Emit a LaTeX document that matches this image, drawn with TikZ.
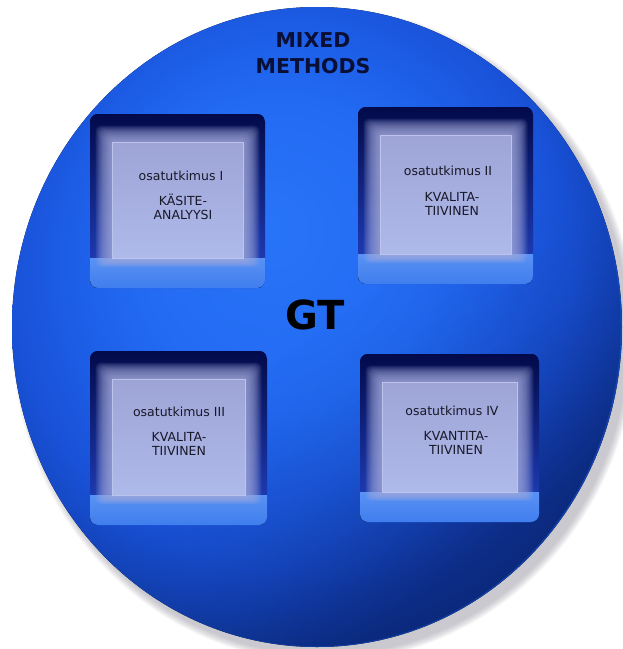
\documentclass[tikz,border=0pt]{standalone}
\usepackage{fontspec}
\setmainfont{DejaVu Sans}
\usepackage{xcolor,tikz}
\usetikzlibrary{fadings}

\definecolor{ballhi}{HTML}{2874F8}
\definecolor{ballin}{HTML}{226AF2}
\definecolor{ballmid}{HTML}{1D5DE6}
\definecolor{ballrim}{HTML}{1952D8}
\definecolor{balledge}{HTML}{1548C4}
\definecolor{balldeep}{HTML}{1140A8}
\definecolor{ballnavy}{HTML}{081C62}
\definecolor{shadowgray}{HTML}{707080}
\definecolor{boxtop}{HTML}{020A4A}
\definecolor{boxmid}{HTML}{1630A8}
\definecolor{boxlow}{HTML}{2243C4}
\definecolor{bandtop}{HTML}{5A92F4}
\definecolor{bandbot}{HTML}{3F7EEE}
\definecolor{glowcol}{HTML}{A5ACDE}
\definecolor{paneltop}{HTML}{9EA4D6}
\definecolor{panelbot}{HTML}{AEBAEA}
\definecolor{panelline}{HTML}{BCC4EE}
\definecolor{boxtext}{HTML}{181828}
\definecolor{titletext}{HTML}{0A0F35}

\pgfdeclareradialshading{mmball}{\pgfpoint{-4bp}{8bp}}{%
  color(0bp)=(ballhi); color(12bp)=(ballin); color(18bp)=(ballmid);
  color(23bp)=(ballrim); color(26bp)=(balledge); color(29bp)=(balldeep);
  color(50bp)=(balldeep)}
\pgfdeclarehorizontalshading{balldimshade}{100bp}{%
  color(0bp)=(black); color(50bp)=(black); color(55bp)=(white!5!black);
  color(60bp)=(white!15!black); color(64bp)=(white!28!black); color(68bp)=(white!45!black);
  color(72bp)=(white!62!black); color(100bp)=(white!62!black)}
\tikzfading[name=balldim,shading=balldimshade]

\begin{document}
\begin{tikzpicture}[x=1pt,y=-1pt,
  boxlabel/.style={font=\fontsize{12.5}{14}\selectfont,text=boxtext,align=center,inner sep=0pt},
  titlelabel/.style={font=\bfseries\fontsize{20.5}{26}\selectfont,text=titletext,align=center,inner sep=0pt},
  gtlabel/.style={font=\bfseries\fontsize{40}{40}\selectfont,text=black,inner sep=0pt}]
\clip (0,0) rectangle (623,649);
\useasboundingbox (0,0) rectangle (623,649);
\foreach \k in {0,...,8}
  \fill[shadowgray,opacity=.05] (324,335) ellipse ({305+.9*\k} and {320+.9*\k});
\fill[shading=mmball] (317,327) ellipse (305 and 320);
\fill[ballnavy,path fading=balldim,fading angle=-55] (317,327) ellipse (305 and 320);
\foreach \n/\xa/\ya/\xb/\yb in {1/90/114/265/288,2/358/107/533/284,3/90/351/267/525,4/360/354/539/522}{
  \begin{scope}
    \clip[rounded corners=8pt] (\xa,\ya) rectangle (\xb,\yb);
    \fill[top color=boxtop,middle color=boxmid,bottom color=boxlow] (\xa,\ya) rectangle (\xb,\yb);
    \fill[top color=bandtop,bottom color=bandbot] (\xa,\yb-30) rectangle (\xb,\yb);
    \foreach \k in {1,...,16}
      \fill[glowcol,opacity=.11,rounded corners=6pt]
        ({\xa+22-1.1*(16-\k)},{\ya+28-1.1*(16-\k)}) rectangle ({\xb-22+1.1*(16-\k)},{\yb-30+.6*(16-\k)});
    \draw[top color=paneltop,bottom color=panelbot,draw=panelline,line width=.5pt]
      (\xa+22,\ya+28) rectangle (\xb-22,\yb-30);
  \end{scope}
}
\node[titlelabel] (mixed) at (313,53) {MIXED\\METHODS};
\node[gtlabel] (gt) at (315,315) {GT};
\node[boxlabel] (study1) at (181,176) {osatutkimus I};
\node[boxlabel] (kind1) at (183,207) {KÄSITE-\\ANALYYSI};
\node[boxlabel] (study2) at (448,171) {osatutkimus II};
\node[boxlabel] (kind2) at (452,204) {KVALITA-\\TIIVINEN};
\node[boxlabel] (study3) at (179,412) {osatutkimus III};
\node[boxlabel] (kind3) at (179,444) {KVALITA-\\TIIVINEN};
\node[boxlabel] (study4) at (452,411) {osatutkimus IV};
\node[boxlabel] (kind4) at (456,443) {KVANTITA-\\TIIVINEN};
\end{tikzpicture}
\end{document}
